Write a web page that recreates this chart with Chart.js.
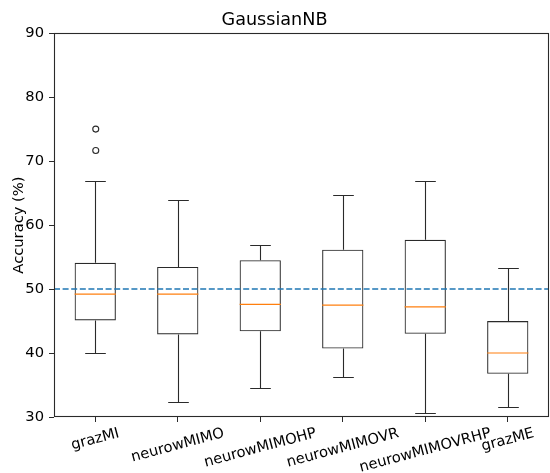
<!DOCTYPE html>
<html>
<head>
<meta charset="utf-8">
<title>GaussianNB</title>
<script src="https://cdn.jsdelivr.net/npm/chart.js@4.4.1/dist/chart.umd.min.js"></script>
<style>
  html, body { margin: 0; padding: 0; background: #fff; }
  #wrap { width: 550px; height: 473px; }
</style>
</head>
<body>
<div id="wrap"><canvas id="grafica" width="550" height="473"></canvas></div>
<script>
// datos de las cajas
const categorias = ["grazMI", "neurowMIMO", "neurowMIMOHP", "neurowMIMOVR", "neurowMIMOVRHP", "grazME"];
const bigoteInf = [40.0, 32.3, 34.6, 36.2, 30.7, 31.55];
const q1 =        [45.1, 42.9, 43.4, 40.7, 43.0, 36.75];
const mediana =   [49.2, 49.2, 47.6, 47.5, 47.2, 40.0];
const q3 =        [54.1, 53.45, 54.5, 56.15, 57.7, 45.0];
const bigoteSup = [66.9, 63.9, 56.9, 64.7, 66.9, 53.3];
const atipicosCat = [0, 0];   // índice de categoría (grazMI)
const atipicosVal = [75.0, 71.65];
const nivelAzar = 50;
const ticksY = [30, 40, 50, 60, 70, 80, 90];

const FUENTE = '"DejaVu Sans", sans-serif';
const TAM = 14.7;
const NEGRO = "#2a2a2a";

// bigotes, atípicos, medianas, línea de azar y marco
const pluginCajas = {
    id: "cajas",
    afterDatasetsDraw(chart) {
        const ctx = chart.ctx;
        const x = chart.scales.x, y = chart.scales.y;
        const paso = x.getPixelForValue(1) - x.getPixelForValue(0);
        ctx.save();
        ctx.lineWidth = 1.1;
        ctx.strokeStyle = NEGRO;
        categorias.forEach((c, i) => {
            const cx = Math.round(x.getPixelForValue(i)) + 0.5;
            const tapa = paso * 0.125;
            const yQ1 = y.getPixelForValue(q1[i]);
            const yQ3 = y.getPixelForValue(q3[i]);
            const yInf = Math.round(y.getPixelForValue(bigoteInf[i])) + 0.5;
            const ySup = Math.round(y.getPixelForValue(bigoteSup[i])) + 0.5;
            ctx.beginPath();
            ctx.moveTo(cx, yQ1); ctx.lineTo(cx, yInf);
            ctx.moveTo(cx - tapa, yInf); ctx.lineTo(cx + tapa, yInf);
            ctx.moveTo(cx, yQ3); ctx.lineTo(cx, ySup);
            ctx.moveTo(cx - tapa, ySup); ctx.lineTo(cx + tapa, ySup);
            ctx.stroke();
        });
        // atípicos (círculos vacíos)
        atipicosVal.forEach((v, k) => {
            ctx.beginPath();
            ctx.arc(x.getPixelForValue(atipicosCat[k]) + 0.5, y.getPixelForValue(v), 3, 0, Math.PI * 2);
            ctx.stroke();
        });
        // línea de 50 %
        const yAzar = y.getPixelForValue(nivelAzar);
        ctx.beginPath();
        ctx.setLineDash([6, 2.6]);
        ctx.strokeStyle = "#1f77b4";
        ctx.lineWidth = 1.6;
        ctx.moveTo(chart.chartArea.left, yAzar);
        ctx.lineTo(chart.chartArea.right, yAzar);
        ctx.stroke();
        ctx.setLineDash([]);
        // medianas
        ctx.strokeStyle = "#ff7f0e";
        ctx.lineWidth = 1.2;
        categorias.forEach((c, i) => {
            const cx = x.getPixelForValue(i);
            const ym = y.getPixelForValue(mediana[i]);
            ctx.beginPath();
            ctx.moveTo(cx - paso * 0.25, ym);
            ctx.lineTo(cx + paso * 0.25, ym);
            ctx.stroke();
        });
        ctx.restore();
    },
    afterDraw(chart) {
        const ctx = chart.ctx;
        const a = chart.chartArea;
        const x = chart.scales.x;
        ctx.save();
        ctx.strokeStyle = NEGRO;
        ctx.lineWidth = 1.1;
        ctx.strokeRect(Math.round(a.left) + 0.5, Math.round(a.top) + 0.5,
            Math.round(a.right - a.left) - 1, Math.round(a.bottom - a.top) - 1);
        // etiquetas del eje x giradas 15° y centradas (como matplotlib)
        const ang = 15 * Math.PI / 180;
        ctx.font = TAM + "px " + FUENTE;
        ctx.fillStyle = "#000";
        ctx.textAlign = "center";
        ctx.textBaseline = "alphabetic";
        const arriba = a.bottom + 9;
        categorias.forEach((c, i) => {
            const w = ctx.measureText(c).width;
            const alto = w * Math.sin(ang) + TAM * Math.cos(ang);
            ctx.save();
            ctx.translate(x.getPixelForValue(i), arriba + alto / 2);
            ctx.rotate(-ang);
            ctx.fillText(c, 0, TAM * 0.26);
            ctx.restore();
        });
        ctx.restore();
    }
};

const ctxCajas = document.getElementById("grafica").getContext("2d");

new Chart(ctxCajas, {
    type: "bar",
    data: {
        labels: categorias,
        datasets: [{
            label: "caja",
            data: q1.map((v, i) => [v, q3[i]]),
            backgroundColor: "rgba(0,0,0,0)",
            borderColor: NEGRO,
            borderWidth: 1.1,
            borderSkipped: false,
            barPercentage: 0.5,
            categoryPercentage: 1.0,
            grouped: false
        }]
    },
    options: {
        responsive: false,
        animation: false,
        devicePixelRatio: 1,
        layout: { padding: { left: 0, right: 1, top: 0, bottom: 0 } },
        plugins: {
            legend: { display: false },
            tooltip: { enabled: false },
            title: {
                display: true,
                text: "GaussianNB",
                color: "#000",
                font: { family: FUENTE, size: 17.6, weight: "normal" },
                padding: { top: 10, bottom: 2 }
            }
        },
        scales: {
            x: {
                type: "category",
                offset: true,
                border: { display: false },
                grid: {
                    display: true, drawOnChartArea: false, drawTicks: true,
                    tickLength: 5, color: NEGRO, offset: false
                },
                ticks: { display: false },
                afterFit(scale) { scale.height = 56; }
            },
            y: {
                min: 30,
                max: 90,
                border: { display: false },
                grid: { display: true, drawOnChartArea: false, drawTicks: true, tickLength: 5, color: NEGRO },
                afterBuildTicks(scale) { scale.ticks = ticksY.map(v => ({ value: v })); },
                ticks: {
                    color: "#000",
                    padding: 5,
                    font: { family: FUENTE, size: TAM }
                },
                title: {
                    display: true,
                    text: "Accuracy (%)",
                    color: "#000",
                    font: { family: FUENTE, size: TAM },
                    padding: { top: 10, bottom: 0 }
                },
                afterFit(scale) { scale.width = 54; }
            }
        }
    },
    plugins: [pluginCajas]
});
</script>
</body>
</html>
